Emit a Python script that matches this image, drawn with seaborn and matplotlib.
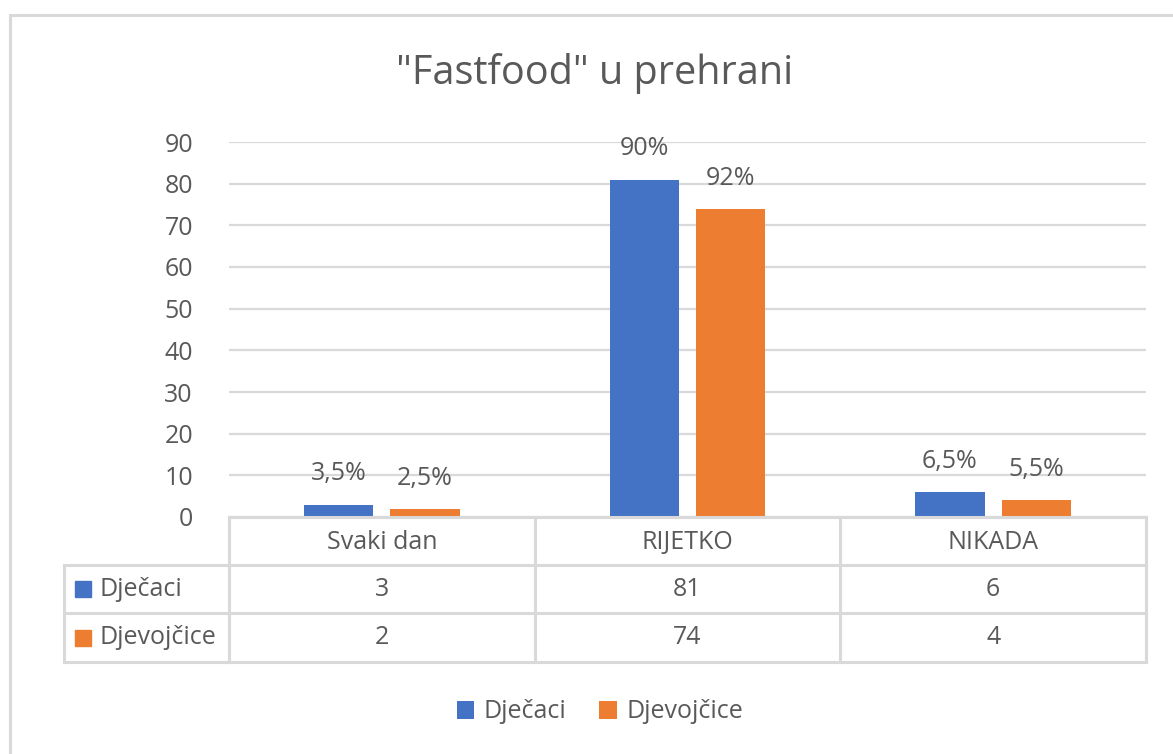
import matplotlib
matplotlib.use("Agg")
import matplotlib.pyplot as plt
from matplotlib.patches import Rectangle, Patch
from matplotlib.transforms import blended_transform_factory
import seaborn as sns
import pandas as pd

# Data
categories = ["Svaki dan", "RIJETKO", "NIKADA"]
series = ["Dječaci", "Djevojčice"]
boys = [3, 81, 6]
girls = [2, 74, 4]
boys_labels = ["3,5%", "90%", "6,5%"]
girls_labels = ["2,5%", "92%", "5,5%"]
y_ticks = [0, 10, 20, 30, 40, 50, 60, 70, 80, 90]

BLUE = "#4472C4"
ORANGE = "#ED7D31"
TEXT = "#595959"
GRID = "#D9D9D9"

sns.set_theme(style="white")
plt.rcParams["font.family"] = ["Open Sans", "DejaVu Sans"]

df = pd.DataFrame({
    "Kategorija": categories * 2,
    "Skupina": [series[0]] * len(categories) + [series[1]] * len(categories),
    "Vrijednost": boys + girls,
})

W, H = 1173, 754
fig = plt.figure(figsize=(W / 100, H / 100), dpi=100)
fig.patch.set_facecolor("white")

# plot area in pixel terms
left, right, top, bottom = 229, 1146, 142, 517
ax = fig.add_axes([left / W, 1 - bottom / H, (right - left) / W, (bottom - top) / H])

sns.barplot(data=df, x="Kategorija", y="Vrijednost", hue="Skupina",
            palette=[BLUE, ORANGE], saturation=1, width=0.565, gap=0.2,
            linewidth=0, legend=False, ax=ax)

ax.set_xlim(-0.5, len(categories) - 0.5)
ax.set_ylim(0, 90)
ax.set_yticks(y_ticks)
ax.set_xticks([])
ax.set_xlabel("")
ax.set_ylabel("")
ax.tick_params(axis="y", length=0, pad=26, labelsize=18, labelcolor=TEXT)
for s in ax.spines.values():
    s.set_visible(False)
ax.yaxis.grid(True, color=GRID, linewidth=1.6)
ax.set_axisbelow(True)

# value labels above bars
for container, labels in zip(ax.containers, [boys_labels, girls_labels]):
    for bar, lab in zip(container, labels):
        ax.annotate(lab, (bar.get_x() + bar.get_width() / 2, bar.get_height()),
                    xytext=(0, 22), textcoords="offset points",
                    ha="center", va="center", fontsize=18, color=TEXT)

# data table below the plot
tr = blended_transform_factory(ax.transData, ax.transAxes)
plot_h = bottom - top
rows = [0, -48 / plot_h, -96 / plot_h, -145 / plot_h]
x_left = -0.5 - (left - 64) / 306
x_edges = [-0.5 + i for i in range(len(categories) + 1)]
line_kw = dict(color=GRID, linewidth=2.2, transform=tr, clip_on=False,
               solid_capstyle="projecting")

ax.plot([x_edges[0], x_edges[-1]], [rows[0], rows[0]], **line_kw)
for r in rows[1:]:
    ax.plot([x_left, x_edges[-1]], [r, r], **line_kw)
for xe in x_edges:
    ax.plot([xe, xe], [rows[0], rows[3]], **line_kw)
ax.plot([x_left, x_left], [rows[1], rows[3]], **line_kw)

for i, cat in enumerate(categories):
    ax.text(i, (rows[0] + rows[1]) / 2 - 0.004, cat, transform=tr, ha="center",
            va="center", fontsize=18, color=TEXT, clip_on=False)
for (r0, r1), vals, name, col in zip([(rows[1], rows[2]), (rows[2], rows[3])],
                                     [boys, girls], series, [BLUE, ORANGE]):
    yc = (r0 + r1) / 2
    for i, v in enumerate(vals):
        ax.text(i, yc, str(v), transform=tr, ha="center", va="center",
                fontsize=18, color=TEXT, clip_on=False)
    ax.plot([-0.5 - (left - 83) / 306], [yc], marker="s", markersize=11,
            color=col, transform=tr, clip_on=False, linestyle="none")
    ax.text(-0.5 - (left - 99) / 306, yc, name, transform=tr, ha="left",
            va="center", fontsize=18, color=TEXT, clip_on=False)

# title
fig.text(595 / W, 1 - 73 / H, '"Fastfood" u prehrani', ha="center",
         va="center", fontsize=28.5, color=TEXT)

# bottom legend
handles = [Patch(facecolor=BLUE, edgecolor="none", label=series[0]),
           Patch(facecolor=ORANGE, edgecolor="none", label=series[1])]
fig.legend(handles=handles, loc="center", bbox_to_anchor=(600 / W, 1 - 712 / H),
           ncol=2, frameon=False, fontsize=18, handlelength=0.7,
           handleheight=0.7, handletextpad=0.4, columnspacing=1.3,
           labelcolor=TEXT)

# chart frame
fig.patches.append(Rectangle((9.5 / W, -0.05), 1.2, (H - 14.5) / H + 0.05,
                             transform=fig.transFigure, fill=False,
                             edgecolor=GRID, linewidth=2.2))

fig.savefig("out.png", dpi=100, facecolor="white")
